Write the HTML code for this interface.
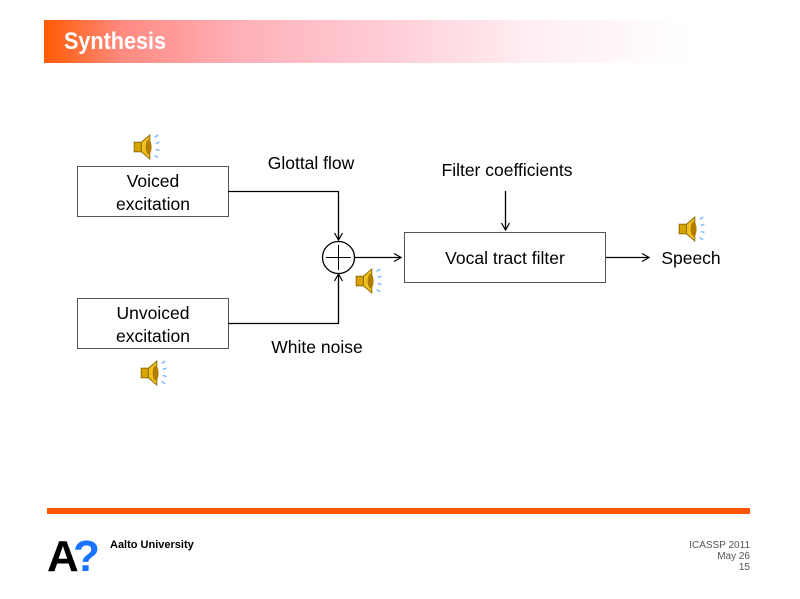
<!DOCTYPE html>
<html><head><meta charset="utf-8"><style>
body{margin:0;width:800px;height:599px;background:#fff;overflow:hidden;position:relative;font-family:"Liberation Sans",sans-serif}
.hdr{position:absolute;left:44px;top:20px;width:648px;height:43px;background:linear-gradient(to right,#ff5a00 0%,#ff8a80 12%,#ffb0b8 30%,#ffd0da 55%,#ffeef2 75%,#ffffff 100%)}
.hdr span{position:absolute;left:20px;top:8px;color:#fff;font-weight:bold;font-size:24px;transform:scaleX(0.9);transform-origin:left}
</style></head><body>
<div class="hdr"><span>Synthesis</span></div>
<svg width="800" height="599" style="position:absolute;left:0;top:0" font-family="Liberation Sans, sans-serif">
<defs>
<g id="spk" transform="scale(1.2)">
<rect x="-9" y="-4" width="6" height="8" fill="#d9a400" stroke="#8a6a00" stroke-width="0.8"/>
<path d="M-3,-4 L4,-10 L4,10 L-3,4 Z" fill="#f0c020" stroke="#8a6a00" stroke-width="0.8"/>
<ellipse cx="3" cy="0" rx="2.5" ry="6" fill="#b07d00"/>
<path d="M8,-8 l3,-2 M9,-3 l3,-1 M9,2 l3,1 M8,7 l3,2" stroke="#7ab8ff" stroke-width="1.2"/>
</g>
<marker id="ar" markerWidth="10" markerHeight="10" refX="8" refY="5" orient="auto" markerUnits="userSpaceOnUse">
<path d="M1,1 L8,5 L1,9" fill="none" stroke="#000" stroke-width="1.2"/>
</marker>
</defs>
<g stroke="#555" fill="#fff" stroke-width="1">
<rect x="77.5" y="166.5" width="151" height="50"/>
<rect x="77.5" y="298.5" width="151" height="50"/>
<rect x="404.5" y="232.5" width="201" height="50"/>
</g>
<g stroke="#000" fill="none" stroke-width="1.3">
<path d="M228,191.5 H338.5 V240" marker-end="url(#ar)"/>
<path d="M228,323.5 H338.5 V274" marker-end="url(#ar)"/>
<circle cx="338.5" cy="257.5" r="16"/>
<path d="M326,257.5 H351 M338.5,245 V270" stroke-width="1"/>
<path d="M354.5,257.5 H401" marker-end="url(#ar)"/>
<path d="M505.5,191 V230" marker-end="url(#ar)"/>
<path d="M606,257.5 H649" marker-end="url(#ar)"/>
</g>
<g font-size="17.5" fill="#000" text-anchor="middle">
<text x="153" y="187">Voiced</text>
<text x="153" y="210">excitation</text>
<text x="153" y="319">Unvoiced</text>
<text x="153" y="342">excitation</text>
<text x="311" y="169">Glottal flow</text>
<text x="507" y="176">Filter coefficients</text>
<text x="505" y="264">Vocal tract filter</text>
<text x="691" y="264">Speech</text>
<text x="317" y="353">White noise</text>
</g>
<use href="#spk" x="145" y="147"/>
<use href="#spk" x="690" y="229"/>
<use href="#spk" x="367" y="281"/>
<use href="#spk" x="152" y="373"/>
<rect x="47" y="508" width="703" height="6" fill="#ff5500"/>
<text x="47" y="571" font-family="Liberation Sans, sans-serif" font-size="44" font-weight="bold" fill="#000">A</text>
<text x="73" y="571" font-family="Liberation Sans, sans-serif" font-size="44" font-weight="bold" fill="#1a73ff">?</text>
<text x="110" y="548" font-size="11" font-weight="bold" fill="#000">Aalto University</text>
<g font-size="10" fill="#555" text-anchor="end">
<text x="750" y="548">ICASSP 2011</text>
<text x="750" y="559">May 26</text>
<text x="750" y="570">15</text>
</g>
</svg>
</body></html>
